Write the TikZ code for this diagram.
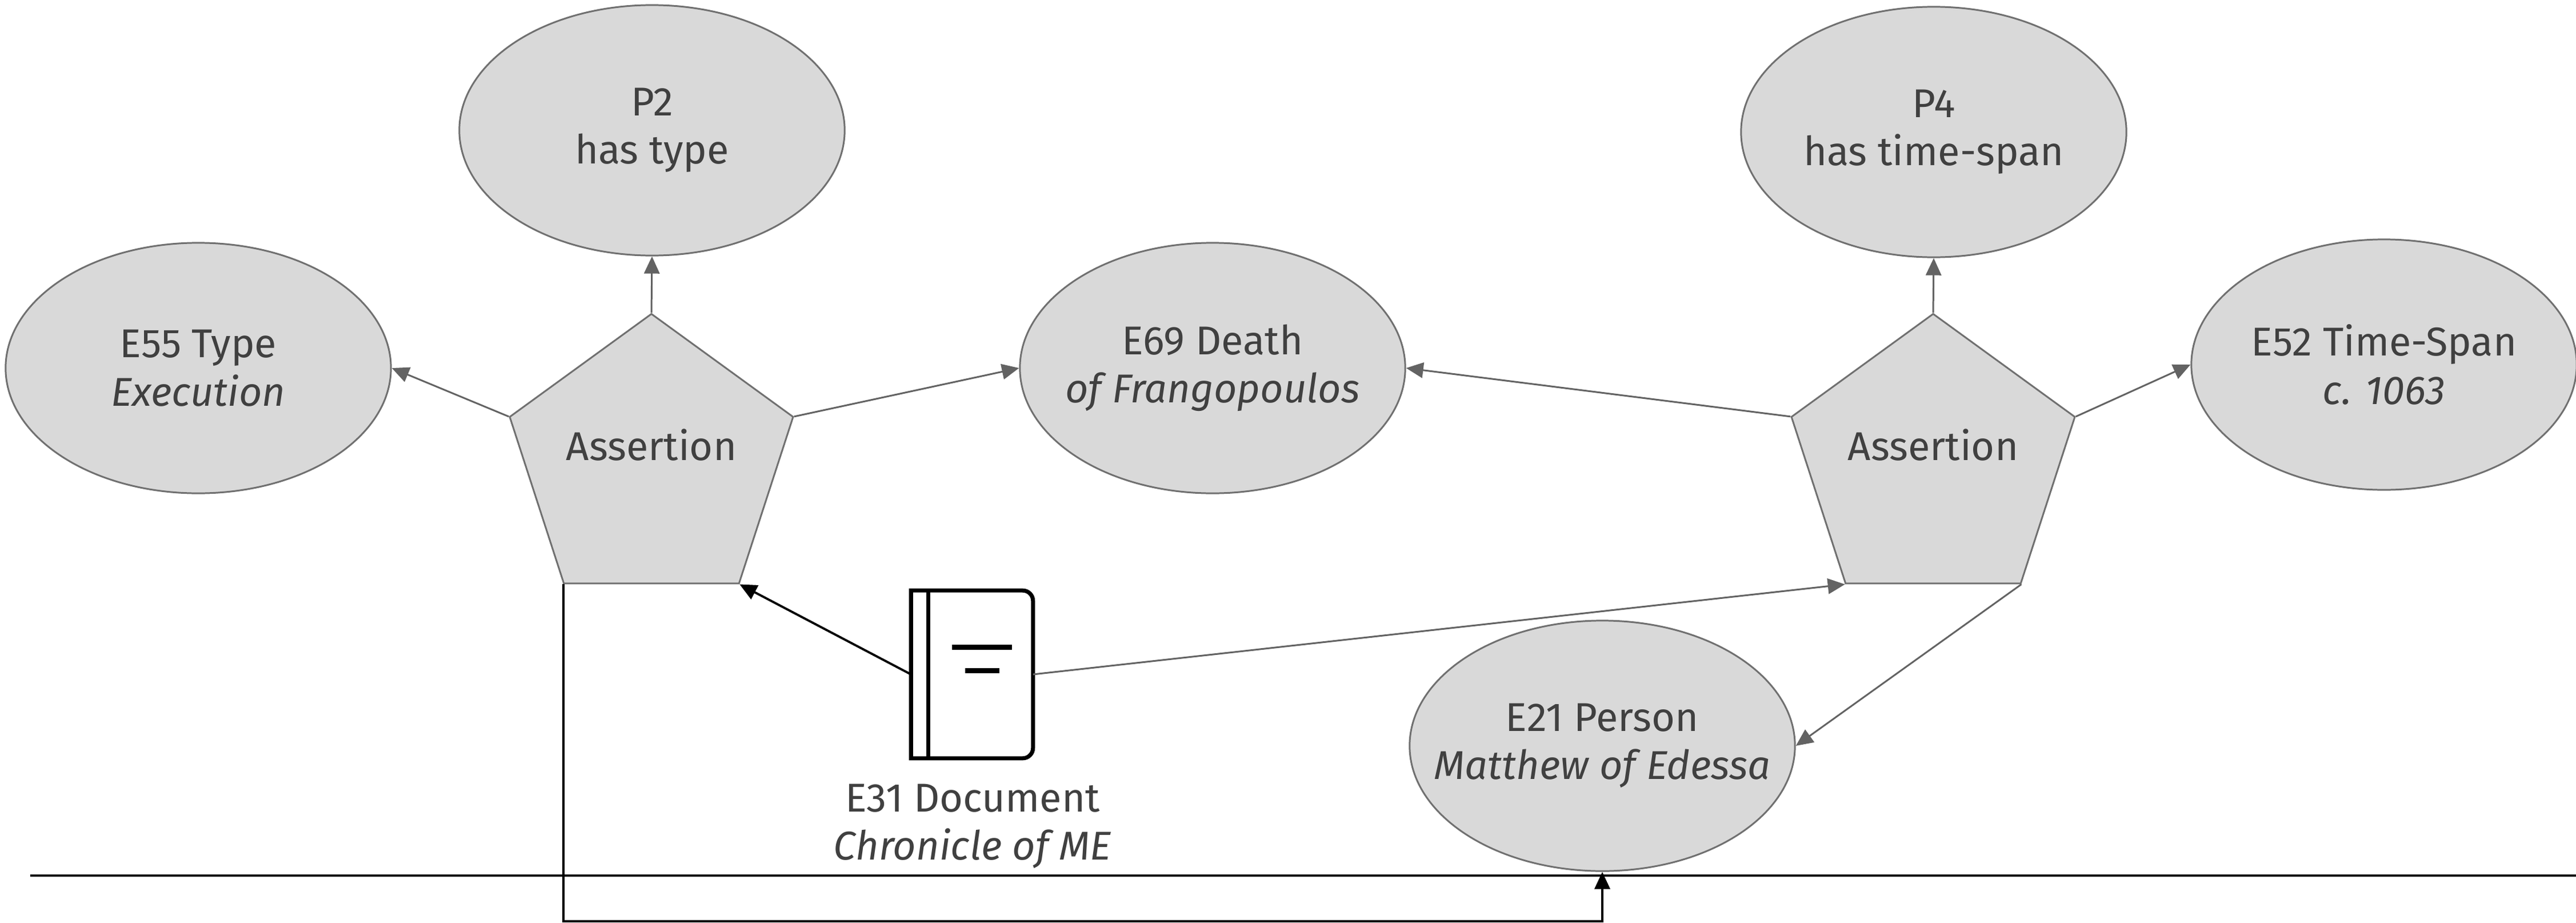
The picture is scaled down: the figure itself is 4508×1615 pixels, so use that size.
\documentclass[tikz,border=0pt]{standalone}
\usepackage{fontspec}
\setmainfont{Fira Sans}
\usepackage{tikz}
\usetikzlibrary{arrows.meta,shapes.geometric}

\definecolor{nodefill}{HTML}{D9D9D9}
\definecolor{nodeline}{HTML}{707070}
\definecolor{edgegray}{HTML}{636363}
\definecolor{textgray}{HTML}{404040}

\begin{document}
\begin{tikzpicture}[x=0.01cm, y=-0.01cm]
\tikzset{entity/.style = {shape=ellipse, draw=nodeline, fill=nodefill, line width=0.85pt,
  minimum width=6.74cm, minimum height=4.38cm, inner xsep=-1.6cm, inner ysep=0pt, align=center,
  text=textgray, font=\fontsize{20}{24}\selectfont}}
\tikzset{assertion/.style = {regular polygon, regular polygon sides=5, draw=nodeline, fill=nodefill,
  line width=0.85pt, minimum size=5.2cm, inner sep=0pt, text=textgray, text depth=0.64cm,
  font=\fontsize{20}{24}\selectfont}}
\tikzset{link/.style = {draw=edgegray, line width=0.85pt, -{Triangle[length=0.3cm,width=0.27cm]}}}
\tikzset{srclink/.style = {draw=black, line width=1.1pt, -{Triangle[length=0.3cm,width=0.27cm]}}}
\tikzset{icon/.style = {line width=2pt}}

\useasboundingbox (0,0) rectangle (4508,1615);

% first assertion
\node[entity] (p2)  at (1141,228) {P2\\has type};
\node[entity] (e55) at (347,644)  {E55 Type\\\textit{Execution}};
\node[assertion] (a1) at (1140,810) {Assertion};
\node[entity] (e69) at (2122,644) {E69 Death\\\textit{of Frangopoulos}};

% second assertion
\node[entity] (p4)  at (3384,231) {P4\\has time-span};
\node[assertion] (a2) at (3383,810) {Assertion};
\node[entity] (e52) at (4172,638) {E52 Time-Span\\\textit{c. 1063}};
\node[entity] (e21) at (2804,1305) {E21 Person\\\textit{Matthew of Edessa}};

% source document
\node[minimum width=2.12cm, minimum height=2.92cm, inner sep=0pt] (doc) at (1701,1180) {};
\draw[icon] (doc.south west) -- (doc.north west) -- ([xshift=-0.18cm]doc.north east)
  arc[start angle=90, end angle=0, radius=0.18cm] -- ([yshift=0.18cm]doc.south east)
  arc[start angle=0, end angle=-90, radius=0.18cm] -- cycle;
\draw[icon] ([xshift=0.305cm]doc.north west) -- ([xshift=0.305cm]doc.south west);
\draw[line width=2.3pt] ([xshift=-0.35cm,yshift=0.475cm]doc.center) -- ([xshift=0.70cm,yshift=0.475cm]doc.center);
\draw[line width=2.3pt] ([xshift=-0.12cm,yshift=0.065cm]doc.center) -- ([xshift=0.48cm,yshift=0.065cm]doc.center);
\node[align=center, text=textgray, font=\fontsize{20}{24}\selectfont] (doclbl) at (1702,1446)
  {E31 Document\\\textit{Chronicle of ME}};

\draw[link] (a1.corner 1) -- (p2.south);
\draw[link] (a1.corner 2) -- (e55.east);
\draw[link] (a1.corner 5) -- (e69.west);
\draw[link] (a2.corner 2) -- (e69.east);
\draw[link] (a2.corner 1) -- (p4.south);
\draw[link] (a2.corner 5) -- (e52.west);
\draw[link] (a2.corner 4) -- (e21.east);
\draw[link] (doc.east) -- (a2.corner 3);
\draw[srclink] (doc.west) -- (a1.corner 4);

% rule and return path
\coordinate (low) at (0,1612);
\coordinate (rl) at (53,1532);
\coordinate (rr) at (4508,1532);
\draw[line width=0.9pt] (rl) -- (rr);
\draw[srclink] (a1.corner 3) -- (a1.corner 3 |- low) -| (e21.south);
\end{tikzpicture}
\end{document}
